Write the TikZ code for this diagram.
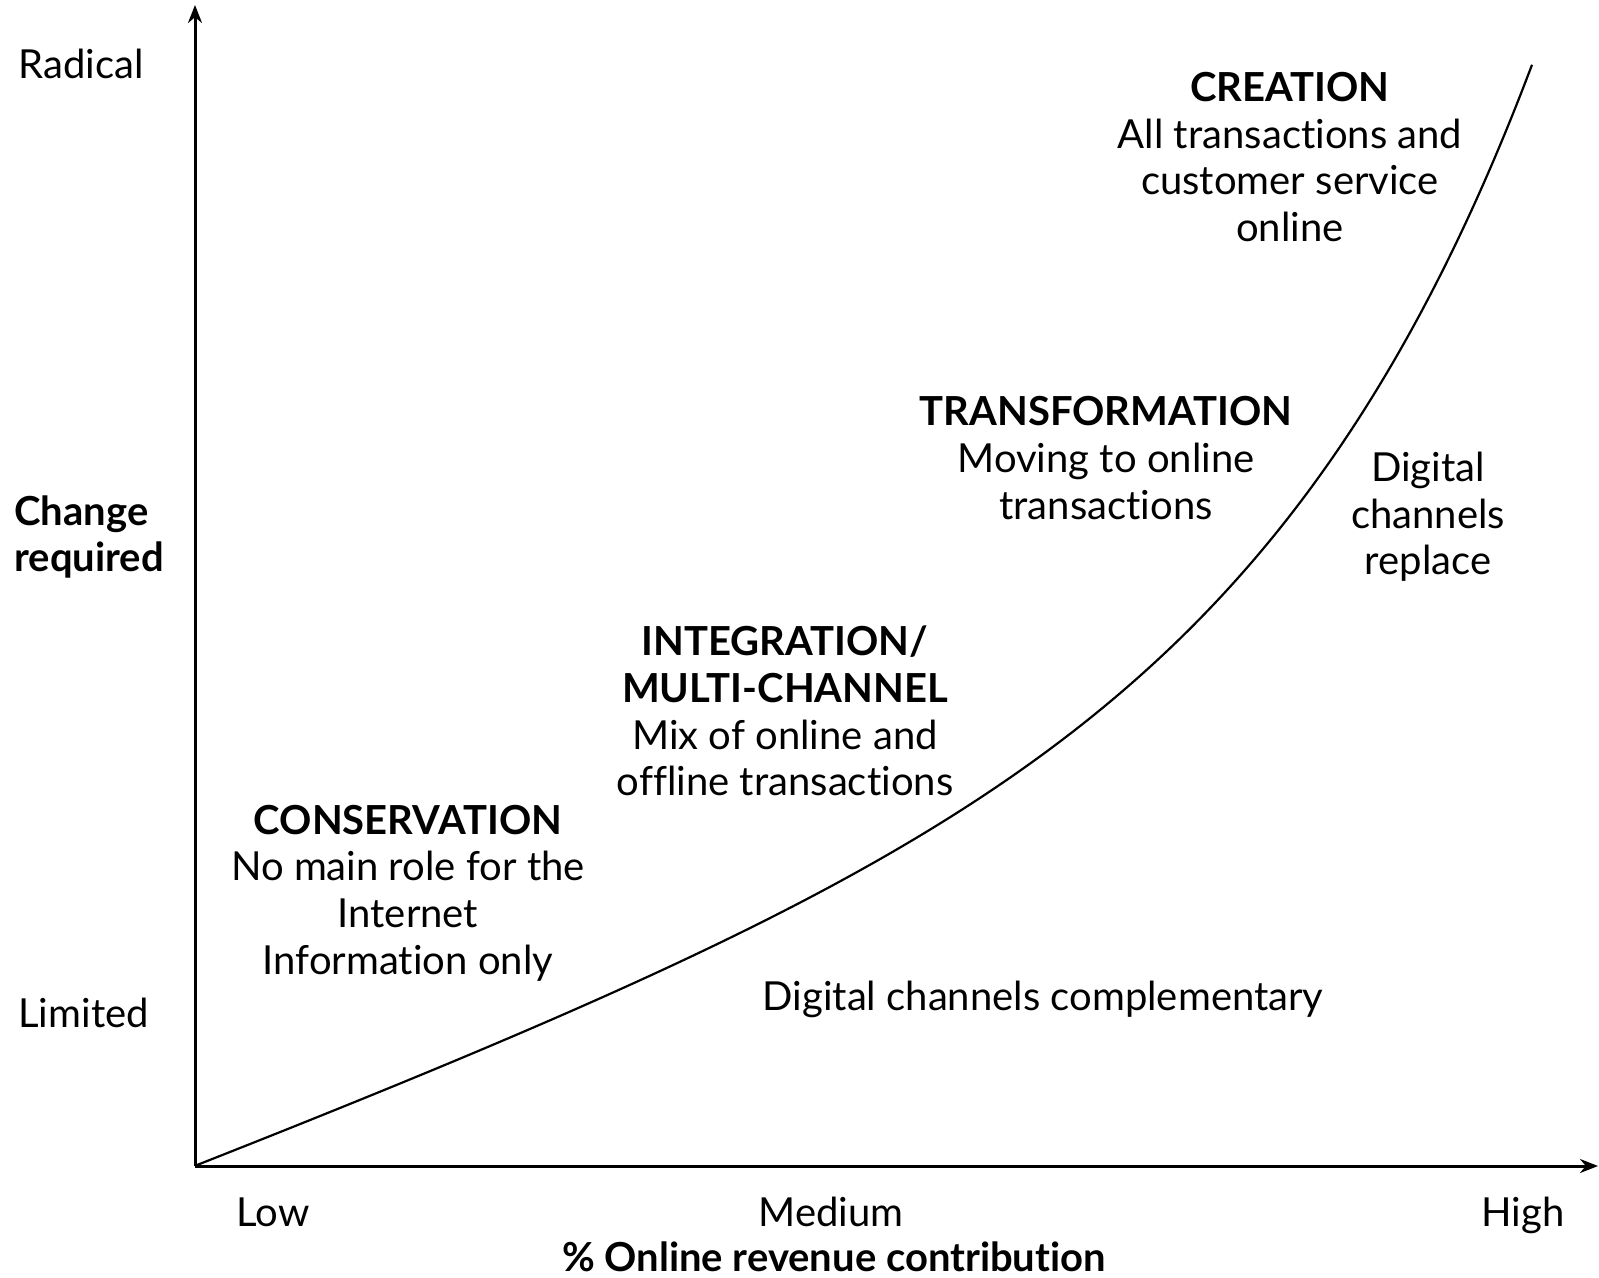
\documentclass[tikz,border=0pt]{standalone}
\usepackage{fontspec}
\setmainfont{Lato}[Ligatures=NoCommon]
\usetikzlibrary{arrows.meta}
\begin{document}
\begin{tikzpicture}[x=0.5pt,y=-0.5pt,
  lbl/.style={inner sep=0pt,align=center,font=\fontsize{20}{23.3}\selectfont},
  blbl/.style={inner sep=0pt,align=center,font=\fontsize{20}{23.3}\selectfont\bfseries},
  axis/.style={line width=1.5pt,-{Stealth[length=9pt,width=7pt]}},
  curve/.style={line width=1.1pt}]
\useasboundingbox[fill=white] (0,0) rectangle (1599,1278);
\coordinate (origin) at (195,1166);
\coordinate (ytop) at (195,5);
\coordinate (xend) at (1598,1166);
\draw[axis] (origin) -- (ytop);
\draw[axis] (origin) -- (xend);
\draw[curve] plot[domain=0:1335,samples=120,smooth] ({197+\x},{1165-0.38*\x-3.74*(exp(0.0038*\x)-1)});
% axis labels
\node[lbl,anchor=west] (radical) at (18,64) {Radical};
\node[blbl,anchor=west,align=left] (change) at (14,537) {Change\\required};
\node[lbl,anchor=west] (limited) at (18,1013) {Limited};
\node[lbl,anchor=base] (low) at (273,1226) {Low};
\node[lbl,anchor=base] (medium) at (831,1226) {Medium};
\node[lbl,anchor=base] (high) at (1523,1226) {High};
\node[blbl,anchor=base] (xtitle) at (834,1271) {\% Online revenue contribution};
% stage labels
\node[lbl] (creation) at (1290,157) {\textbf{CREATION}\\All transactions and\\customer service\\online};
\node[lbl] (transf) at (1106,458) {\textbf{TRANSFORMATION}\\Moving to online\\transactions};
\node[lbl] (replace) at (1428,517) {Digital\\channels\\replace};
\node[lbl] (integ) at (785,711) {\textbf{INTEGRATION/}\\\textbf{MULTI-CHANNEL}\\Mix of online and\\offline transactions};
\node[lbl] (conserv) at (408,893) {\textbf{CONSERVATION}\\No main role for the\\Internet\\Information only};
\node[lbl] (compl) at (1043,999) {Digital channels complementary};
\end{tikzpicture}
\end{document}
